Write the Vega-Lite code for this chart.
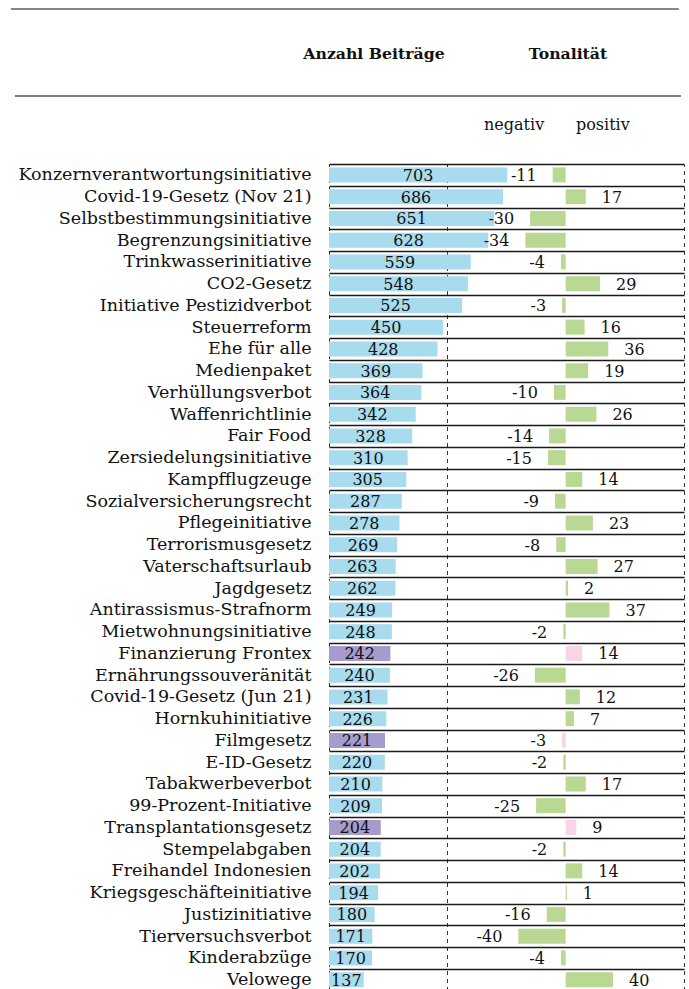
{
  "$schema": "https://vega.github.io/schema/vega-lite/v6.json",
  "padding": {"left": 10, "top": 8, "right": 4, "bottom": 0},
  "spacing": 19,
  "config": {"font": "DejaVu Serif", "view": {"stroke": null}},
  "vconcat": [
    {
      "data": {"values": [{}]},
      "width": 355,
      "height": 87,
      "layer": [
        {"mark": {"type": "rule", "color": "#111111", "strokeWidth": 1, "clip": false},
         "encoding": {
           "x": {"datum": -468.8, "type": "quantitative", "scale": {"domain": [-200, 100], "nice": false}, "axis": null},
           "x2": {"datum": 95.7},
           "y": {"datum": 1, "type": "quantitative", "scale": {"domain": [0, 1], "nice": false}, "axis": null}}},
        {"mark": {"type": "rule", "color": "#7a7a7a", "strokeWidth": 2, "clip": false},
         "encoding": {
           "x": {"datum": -465.4, "type": "quantitative", "scale": {"domain": [-200, 100], "nice": false}, "axis": null},
           "x2": {"datum": 97.4},
           "y": {"datum": 0, "type": "quantitative", "scale": {"domain": [0, 1], "nice": false}, "axis": null}}},
        {"mark": {"type": "text", "fontWeight": "bold", "fontSize": 15.7, "color": "#111111", "align": "center", "baseline": "middle"},
         "encoding": {
           "x": {"datum": -162, "type": "quantitative", "scale": {"domain": [-200, 100], "nice": false}, "axis": null},
           "y": {"datum": 0.48, "type": "quantitative", "scale": {"domain": [0, 1], "nice": false}, "axis": null},
           "text": {"value": "Anzahl Beiträge"}}},
        {"mark": {"type": "text", "fontWeight": "bold", "fontSize": 15.7, "color": "#111111", "align": "center", "baseline": "middle"},
         "encoding": {
           "x": {"datum": 2, "type": "quantitative", "scale": {"domain": [-200, 100], "nice": false}, "axis": null},
           "y": {"datum": 0.48, "type": "quantitative", "scale": {"domain": [0, 1], "nice": false}, "axis": null},
           "text": {"value": "Tonalität"}}}
      ]
    },
    {
      "data": {"values": [
        {"thema": "Konzernverantwortungsinitiative", "anzahl": 703, "ton": -11, "gruppe": "A"},
        {"thema": "Covid-19-Gesetz (Nov 21)", "anzahl": 686, "ton": 17, "gruppe": "A"},
        {"thema": "Selbstbestimmungsinitiative", "anzahl": 651, "ton": -30, "gruppe": "A"},
        {"thema": "Begrenzungsinitiative", "anzahl": 628, "ton": -34, "gruppe": "A"},
        {"thema": "Trinkwasserinitiative", "anzahl": 559, "ton": -4, "gruppe": "A"},
        {"thema": "CO2-Gesetz", "anzahl": 548, "ton": 29, "gruppe": "A"},
        {"thema": "Initiative Pestizidverbot", "anzahl": 525, "ton": -3, "gruppe": "A"},
        {"thema": "Steuerreform", "anzahl": 450, "ton": 16, "gruppe": "A"},
        {"thema": "Ehe für alle", "anzahl": 428, "ton": 36, "gruppe": "A"},
        {"thema": "Medienpaket", "anzahl": 369, "ton": 19, "gruppe": "A"},
        {"thema": "Verhüllungsverbot", "anzahl": 364, "ton": -10, "gruppe": "A"},
        {"thema": "Waffenrichtlinie", "anzahl": 342, "ton": 26, "gruppe": "A"},
        {"thema": "Fair Food", "anzahl": 328, "ton": -14, "gruppe": "A"},
        {"thema": "Zersiedelungsinitiative", "anzahl": 310, "ton": -15, "gruppe": "A"},
        {"thema": "Kampfflugzeuge", "anzahl": 305, "ton": 14, "gruppe": "A"},
        {"thema": "Sozialversicherungsrecht", "anzahl": 287, "ton": -9, "gruppe": "A"},
        {"thema": "Pflegeinitiative", "anzahl": 278, "ton": 23, "gruppe": "A"},
        {"thema": "Terrorismusgesetz", "anzahl": 269, "ton": -8, "gruppe": "A"},
        {"thema": "Vaterschaftsurlaub", "anzahl": 263, "ton": 27, "gruppe": "A"},
        {"thema": "Jagdgesetz", "anzahl": 262, "ton": 2, "gruppe": "A"},
        {"thema": "Antirassismus-Strafnorm", "anzahl": 249, "ton": 37, "gruppe": "A"},
        {"thema": "Mietwohnungsinitiative", "anzahl": 248, "ton": -2, "gruppe": "A"},
        {"thema": "Finanzierung Frontex", "anzahl": 242, "ton": 14, "gruppe": "B"},
        {"thema": "Ernährungssouveränität", "anzahl": 240, "ton": -26, "gruppe": "A"},
        {"thema": "Covid-19-Gesetz (Jun 21)", "anzahl": 231, "ton": 12, "gruppe": "A"},
        {"thema": "Hornkuhinitiative", "anzahl": 226, "ton": 7, "gruppe": "A"},
        {"thema": "Filmgesetz", "anzahl": 221, "ton": -3, "gruppe": "B"},
        {"thema": "E-ID-Gesetz", "anzahl": 220, "ton": -2, "gruppe": "A"},
        {"thema": "Tabakwerbeverbot", "anzahl": 210, "ton": 17, "gruppe": "A"},
        {"thema": "99-Prozent-Initiative", "anzahl": 209, "ton": -25, "gruppe": "A"},
        {"thema": "Transplantationsgesetz", "anzahl": 204, "ton": 9, "gruppe": "B"},
        {"thema": "Stempelabgaben", "anzahl": 204, "ton": -2, "gruppe": "A"},
        {"thema": "Freihandel Indonesien", "anzahl": 202, "ton": 14, "gruppe": "A"},
        {"thema": "Kriegsgeschäfteinitiative", "anzahl": 194, "ton": 1, "gruppe": "A"},
        {"thema": "Justizinitiative", "anzahl": 180, "ton": -16, "gruppe": "A"},
        {"thema": "Tierversuchsverbot", "anzahl": 171, "ton": -40, "gruppe": "A"},
        {"thema": "Kinderabzüge", "anzahl": 170, "ton": -4, "gruppe": "A"},
        {"thema": "Velowege", "anzahl": 137, "ton": 40, "gruppe": "A"}
      ]},
      "width": 355,
      "height": {"step": 21.75},
      "encoding": {
        "y": {"field": "thema", "type": "nominal", "sort": null,
              "scale": {"paddingInner": 0, "paddingOuter": 0},
              "axis": {"title": null, "ticks": false, "domain": false, "labelFontSize": 17.5, "labelColor": "#111111",
                       "labelFont": "DejaVu Serif", "labelPadding": 18, "labelLimit": 500,
                       "grid": true, "tickBand": "extent", "gridColor": "#1a1a1a", "gridWidth": 1.3}}
      },
      "layer": [
        {"mark": {"type": "bar", "height": 15},
         "encoding": {
           "x": {"field": "anzahl", "type": "quantitative", "scale": {"domain": [0, 1400], "nice": false},
                 "axis": {"orient": "bottom", "title": null, "labels": false, "ticks": false, "domain": false,
                          "grid": true, "values": [0, 466.7, 1400], "gridDash": [4, 4], "gridColor": "#333333", "gridWidth": 1}},
           "color": {"field": "gruppe", "type": "nominal", "scale": {"domain": ["A", "B"], "range": ["#a8dbee", "#a69bcc"]}, "legend": null}}},
        {"mark": {"type": "text", "fontSize": 16, "color": "#111111", "align": "center", "baseline": "middle", "dy": 1},
         "encoding": {
           "x": {"field": "anzahl", "type": "quantitative", "scale": {"domain": [0, 2800], "nice": false}, "axis": null},
           "text": {"field": "anzahl", "type": "nominal"}}},
        {"mark": {"type": "bar", "height": 15},
         "encoding": {
           "x": {"field": "ton", "type": "quantitative", "scale": {"domain": [-200, 100], "nice": false},
                 "axis": {"orient": "top", "title": null, "values": [-44, 31], "labelExpr": "datum.value < 0 ? 'negativ' : 'positiv'",
                          "ticks": false, "domain": false, "grid": false, "labelFontSize": 16, "labelColor": "#111111",
                          "labelPadding": 32, "labelBaseline": "bottom"}},
           "color": {"field": "gruppe", "type": "nominal", "scale": {"domain": ["A", "B"], "range": ["#b9d894", "#f9d3e6"]}, "legend": null}}},
        {"transform": [{"filter": "datum.ton >= 0"}],
         "mark": {"type": "text", "fontSize": 16, "color": "#111111", "align": "left", "baseline": "middle", "dx": 16, "dy": 1},
         "encoding": {
           "x": {"field": "ton", "type": "quantitative", "scale": {"domain": [-200, 100], "nice": false}, "axis": null},
           "text": {"field": "ton", "type": "nominal"}}},
        {"transform": [{"filter": "datum.ton < 0"}],
         "mark": {"type": "text", "fontSize": 16, "color": "#111111", "align": "right", "baseline": "middle", "dx": -16, "dy": 1},
         "encoding": {
           "x": {"field": "ton", "type": "quantitative", "scale": {"domain": [-200, 100], "nice": false}, "axis": null},
           "text": {"field": "ton", "type": "nominal"}}},
        {"mark": {"type": "rule", "color": "#000000", "strokeWidth": 2.5, "strokeDash": [8, 4]},
         "encoding": {
           "x": {"datum": 0, "type": "quantitative", "scale": {"domain": [-200, 100], "nice": false}, "axis": null}}}
      ],
      "resolve": {"scale": {"x": "independent", "color": "independent"}, "axis": {"x": "independent"}}
    }
  ]
}
